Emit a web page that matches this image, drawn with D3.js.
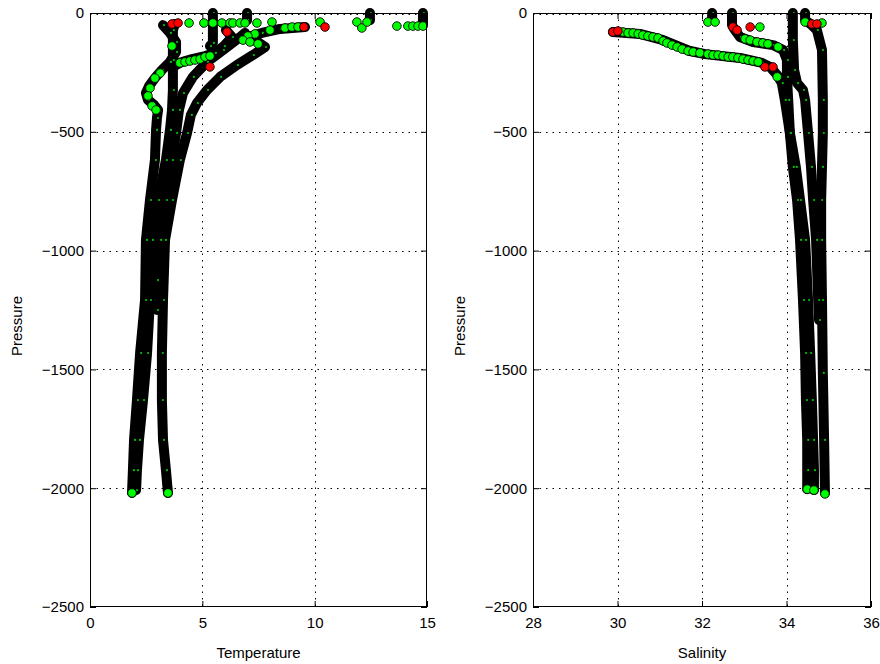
<!DOCTYPE html>
<html><head><meta charset="utf-8">
<script src="https://cdn.jsdelivr.net/npm/d3@7"></script>
<style>
body{margin:0;background:#fff}
svg{display:block}
text{font-family:"Liberation Sans",Arial,sans-serif;font-size:15px;fill:#000}
</style></head><body>
<svg id="c" width="880" height="664"></svg>
<script>
// ---------------- data ----------------
const pressureTicks = [0, -500, -1000, -1500, -2000, -2500];
const tempTicks = [0, 5, 10, 15];
const salTicks = [28, 30, 32, 34, 36];

// Temperature profiles: [temperature, pressure]
const tempProfileA = [[14.82,0],[14.82,-50]];
const tempProfileB = [[12.46,0],[12.46,-30]];
const tempProfileC = [[6.99,0],[6.99,-30]];
const tempProfileD = [[5.47,0],[5.47,-126],[5.34,-139]];
const tempProfileE = [[6.05,-72],[6.32,-101],[5.96,-139],[5.56,-168],[5.12,-181],[4.54,-194],[4.09,-206],[3.83,-219]];
const tempProfileF = [[3.78,-46],[3.69,-72],[3.69,-198],[3.69,-324],[3.65,-408],[3.56,-492],[3.38,-619],[3.03,-787],[2.76,-955],[2.67,-1208],[2.54,-1431],[2.36,-1629],[2.18,-1797],[2.09,-1924],[2.05,-2008]];
const tempProfileG = [[3.25,-51],[3.56,-84],[3.83,-122],[3.83,-164],[3.56,-206],[3.20,-240],[2.89,-274],[2.63,-307],[2.49,-337],[2.58,-366],[2.85,-387],[3.03,-408],[2.98,-442],[2.94,-492],[2.89,-619],[2.67,-787],[2.49,-955],[2.45,-1208],[2.23,-1431],[2.09,-1629],[1.96,-1797],[1.91,-1924],[1.87,-2020]];
const tempProfileH = [[9.57,-59],[8.46,-67],[7.65,-84],[7.03,-101],[7.39,-118],[7.79,-143],[7.25,-177],[6.54,-219],[5.79,-269],[5.21,-324],[4.76,-379],[4.49,-429],[4.32,-505],[4.0,-619],[3.65,-787],[3.34,-955],[3.25,-1208],[3.20,-1431],[3.20,-1629],[3.25,-1797],[3.38,-1924],[3.47,-2020]];
const tempProfileI = [[6.90,-84],[6.68,-101],[5.92,-156],[5.21,-206],[4.58,-269],[4.14,-337],[3.96,-408],[3.83,-505],[3.65,-619],[3.38,-787],[3.12,-955],[2.98,-1124],[2.98,-1250]];

const tempGood = [[4.41,-42],[5.07,-42],[5.47,-42],[5.87,-42],[6.23,-42],[6.36,-42],[6.68,-42],[6.90,-42],[7.43,-42],[8.10,-38],
  [10.24,-38],[11.88,-38],[12.10,-63],[12.33,-38],[13.66,-55],[14.15,-55],[14.37,-55],[14.60,-55],[14.82,-55],
  [8.68,-63],[8.99,-59],[9.26,-59],[8.01,-72],[7.34,-88],[7.03,-97],
  [4.0,-210],[4.23,-206],[4.45,-202],[4.67,-198],[4.90,-194],[5.12,-185],[5.34,-181],
  [3.65,-139],[3.12,-253],[2.89,-274],[2.67,-316],[2.58,-349],[2.76,-391],[2.94,-408],
  [6.81,-114],[7.12,-122],[7.48,-130],
  [1.87,-2020],[3.47,-2020]];
const tempBad = [[3.65,-46],[3.92,-42],[6.10,-80],[9.52,-59],[10.46,-59],[5.34,-227]];

// Salinity profiles: [salinity, pressure]
const salProfileA = [[32.24,0],[32.24,-29]];
const salProfileB = [[32.71,0],[32.71,-51],[32.76,-67],[32.90,-101],[33.21,-122],[33.68,-135],[33.92,-156],[34.01,-198],[34.01,-269],[34.04,-366],[34.08,-505],[34.15,-648],[34.25,-787],[34.32,-955],[34.39,-1208],[34.44,-1431],[34.46,-1629],[34.49,-1797],[34.49,-1924],[34.49,-2004]];
const salProfileC = [[29.89,-80],[30.53,-88],[31.08,-114],[31.72,-160],[32.07,-173],[32.90,-189],[33.42,-210],[33.61,-227],[33.78,-261],[33.89,-295],[33.96,-366],[34.08,-505],[34.22,-648],[34.32,-787],[34.44,-955],[34.51,-1208],[34.56,-1431],[34.60,-1629],[34.63,-1797],[34.65,-1924],[34.65,-2008]];
const salProfileD = [[34.15,0],[34.15,-114],[34.18,-240],[34.25,-295],[34.39,-324],[34.44,-366],[34.51,-505],[34.58,-648],[34.63,-787],[34.70,-955],[34.75,-1208],[34.77,-1292]];
const salProfileE = [[34.44,0],[34.44,-29],[34.60,-51],[34.72,-72],[34.84,-156],[34.86,-366],[34.86,-505],[34.84,-648],[34.82,-787],[34.82,-955],[34.84,-1208],[34.86,-1515],[34.89,-1797],[34.91,-2020]];

const salGood = [[32.14,-38],[32.31,-38],[33.37,-59],
  [33.02,-109],[33.14,-114],[33.30,-122],[33.44,-126],[33.56,-130],[33.80,-143],
  [30.13,-80],[30.25,-84],[30.37,-84],[30.49,-88],[30.60,-93],[30.72,-97],[30.84,-101],[30.96,-105],[31.08,-118],[31.17,-126],[31.29,-135],[31.41,-143],[31.53,-152],[31.67,-160],[31.79,-164],[31.95,-168],
  [32.14,-173],[32.26,-177],[32.38,-177],[32.50,-181],[32.62,-185],[32.73,-185],[32.85,-189],[32.97,-194],[33.09,-198],[33.21,-202],[33.33,-206],[33.78,-269],
  [34.44,-38],[34.84,-42],
  [34.49,-2004],[34.65,-2008],[34.91,-2024]];
const salBad = [[29.89,-80],[30.01,-76],[32.73,-59],[32.83,-72],[33.14,-59],[33.49,-227],[33.68,-227],[34.60,-46],[34.72,-46]];

// ---------------- drawing ----------------
const svg = d3.select('#c');
const yTop = 13, yBottom = 607;

function panel(cfg) {
  const x = d3.scaleLinear().domain(cfg.domain).range([cfg.left, cfg.right]);
  const y = d3.scaleLinear().domain([-2500, 0]).range([yBottom, yTop]);
  const g = svg.append('g');

  // grid
  g.selectAll('line.gx').data(cfg.ticks.slice(1, -1)).join('line')
    .attr('x1', d => Math.round(x(d)) + 0.5).attr('x2', d => Math.round(x(d)) + 0.5)
    .attr('y1', yTop).attr('y2', yBottom)
    .attr('stroke', '#000').attr('stroke-width', 1).attr('stroke-dasharray', '1.5,5');
  g.selectAll('line.gy').data(pressureTicks.slice(0, -1)).join('line')
    .attr('y1', d => Math.round(y(d)) + (d === 0 ? 1.5 : 0.5)).attr('y2', d => Math.round(y(d)) + (d === 0 ? 1.5 : 0.5))
    .attr('x1', cfg.left).attr('x2', cfg.right)
    .attr('stroke', '#000').attr('stroke-width', 1).attr('stroke-dasharray', '1.5,5');

  // profiles
  const line = d3.line().x(d => x(d[0])).y(d => y(d[1]));
  g.selectAll('path.prof').data(cfg.profiles).join('path')
    .attr('d', line).attr('fill', 'none').attr('stroke', '#000')
    .attr('stroke-width', 10).attr('stroke-linecap', 'round').attr('stroke-linejoin', 'round');

  // small green flecks at profile points
  g.selectAll('circle.fleck').data(cfg.profiles.flat()).join('circle')
    .attr('cx', d => x(d[0]) + 1).attr('cy', d => y(d[1])).attr('r', 1.1)
    .attr('fill', '#00c800');

  // good points
  g.selectAll('circle.good').data(cfg.good).join('circle')
    .attr('cx', d => x(d[0])).attr('cy', d => y(d[1])).attr('r', 4.3)
    .attr('fill', '#00ff00').attr('stroke', '#000').attr('stroke-width', 0.9);
  // flagged points
  g.selectAll('circle.bad').data(cfg.bad).join('circle')
    .attr('cx', d => x(d[0])).attr('cy', d => y(d[1])).attr('r', 4.3)
    .attr('fill', '#ff0000').attr('stroke', '#000').attr('stroke-width', 0.9);

  // axes (ticks inside, box)
  const ax = g.append('g');
  ax.append('g').attr('transform', `translate(0,${yBottom})`)
    .call(d3.axisBottom(x).tickValues(cfg.ticks).tickSize(-6).tickPadding(10).tickFormat(d3.format('d')));
  ax.append('g').attr('transform', `translate(0,${yTop})`)
    .call(d3.axisTop(x).tickValues(cfg.ticks).tickSize(-6).tickFormat(''));
  ax.append('g').attr('transform', `translate(${cfg.left},0)`)
    .call(d3.axisLeft(y).tickValues(pressureTicks).tickSize(-6).tickPadding(6).tickFormat(d => d3.format('d')(d)));
  ax.append('g').attr('transform', `translate(${cfg.right},0)`)
    .call(d3.axisRight(y).tickValues(pressureTicks).tickSize(-6).tickFormat(''));
  ax.selectAll('.domain').remove();
  ax.selectAll('.tick line').attr('stroke', '#000');
  ax.selectAll('.tick text').attr('font-size', 15).attr('font-family', '"Liberation Sans",Arial,sans-serif').attr('fill', '#000');
  g.append('rect').attr('x', cfg.left + 0.5).attr('y', yTop + 0.5)
    .attr('width', cfg.right - cfg.left - 1).attr('height', yBottom - yTop - 1)
    .attr('fill', 'none').attr('stroke', '#000').attr('stroke-width', 1);

  // labels
  g.append('text').attr('x', (cfg.left + cfg.right) / 2).attr('y', 658)
    .attr('text-anchor', 'middle').text(cfg.xlabel);
  g.append('text').attr('transform', `translate(${cfg.left - 68},${(yTop + yBottom) / 2 + 16}) rotate(-90)`)
    .attr('text-anchor', 'middle').text('Pressure');
}

panel({left: 90, right: 427, domain: [0, 15], ticks: tempTicks, xlabel: 'Temperature',
  profiles: [tempProfileA, tempProfileB, tempProfileC, tempProfileD, tempProfileE, tempProfileF, tempProfileG, tempProfileH, tempProfileI],
  good: tempGood, bad: tempBad});
panel({left: 533, right: 871, domain: [28, 36], ticks: salTicks, xlabel: 'Salinity',
  profiles: [salProfileA, salProfileB, salProfileC, salProfileD, salProfileE],
  good: salGood, bad: salBad});
</script></body></html>
